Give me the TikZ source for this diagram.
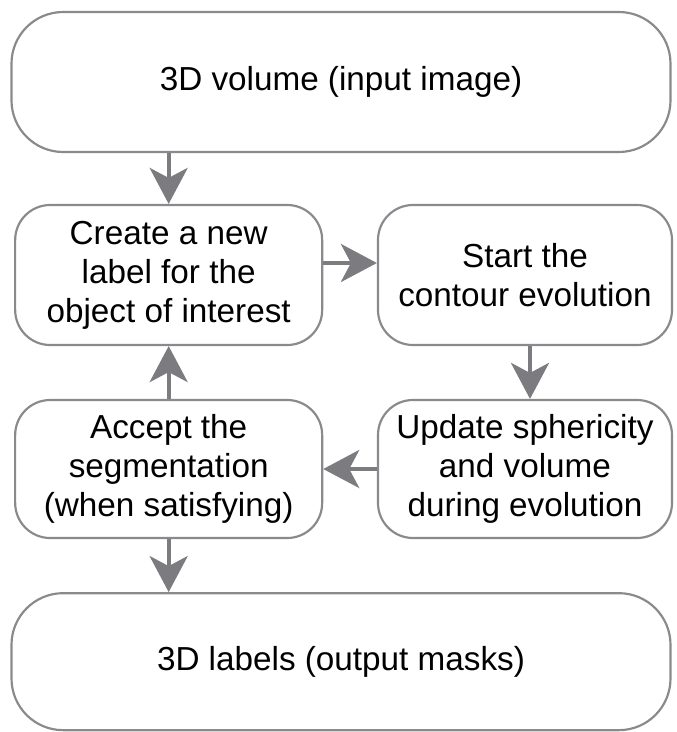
\documentclass[tikz,border=0pt]{standalone}
\usepackage{fontspec}
\setmainfont{Liberation Sans}
\usetikzlibrary{arrows.meta}

\definecolor{boxgray}{RGB}{138,138,142}
\definecolor{arrowgray}{RGB}{124,124,128}

\tikzset{
    stepbox/.style={draw=boxgray, line width=0.065cm, rounded corners=1.05cm,
        align=center, inner sep=0pt, minimum height=4.2cm,
        font=\fontsize{28.4pt}{33.2pt}\selectfont},
    endbox/.style={stepbox, rounded corners=1.55cm, minimum width=19.77cm},
    flow/.style={draw=arrowgray, line width=0.12cm,
        -{Stealth[length=1.08cm, width=1.14cm, inset=0.3cm]}}
}

\begin{document}
\begin{tikzpicture}
    \useasboundingbox (0,0) rectangle (20.28,-21.96);
    % Input and output
    \node[endbox] (input) at (10.23,-2.46) {3D volume (input image)};
    \node[endbox, minimum height=4.11cm] (output) at (10.23,-19.85) {3D labels (output masks)};
    % The loop
    \node[stepbox, minimum width=9.21cm] (create) at (5.06,-8.25)
        {Create a new\\label for the\\object of interest};
    \node[stepbox, minimum width=8.82cm] (start) at (15.75,-8.25)
        {Start the\\contour evolution};
    \node[stepbox, minimum width=9.21cm, minimum height=4.14cm] (accept) at (5.06,-14.07)
        {Accept the\\segmentation\\(when satisfying)};
    \node[stepbox, minimum width=8.82cm, minimum height=4.14cm] (update) at (15.75,-14.07)
        {Update sphericity\\and volume\\during evolution};
    % Connectors
    \draw[flow] (input.south -| create.north) -- (create.north);
    \draw[flow] ([yshift=0.36cm]create.east) -- ([yshift=0.36cm]start.west);
    \draw[flow] ([xshift=0.15cm]start.south) -- ([xshift=0.15cm]update.north);
    \draw[flow] (update.west) -- (accept.east);
    \draw[flow] (accept.north) -- (create.south);
    \draw[flow] (accept.south) -- (output.north -| accept.south);
\end{tikzpicture}
\end{document}
